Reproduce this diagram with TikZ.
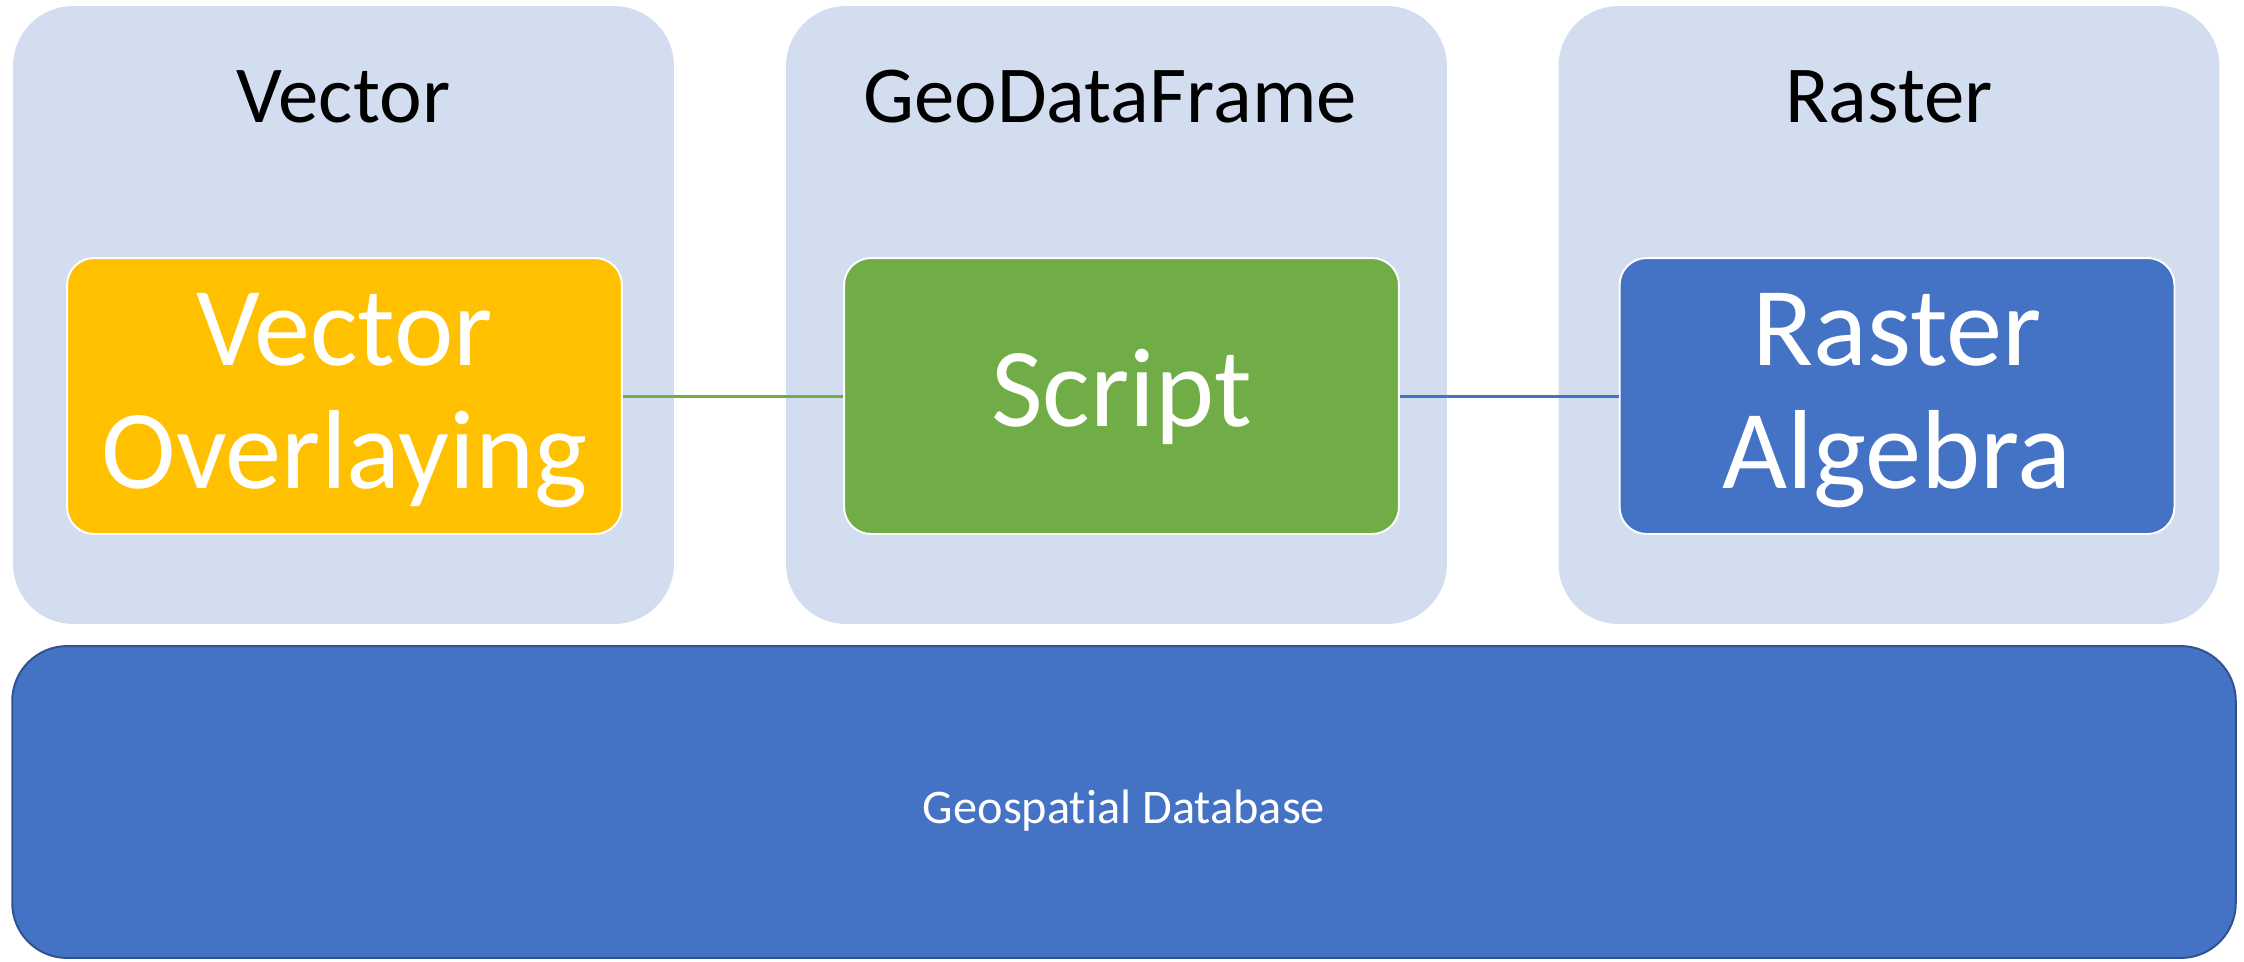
\documentclass[tikz,border=0pt]{standalone}
\usepackage{fontspec}
\setmainfont{Carlito}[Ligatures=NoCommon]
\definecolor{panelfill}{HTML}{D2DEEF}
\definecolor{vecfill}{HTML}{FFC000}
\definecolor{scrfill}{HTML}{70AD47}
\definecolor{rasfill}{HTML}{4472C4}
\definecolor{dbborder}{HTML}{2F528F}
\tikzset{
  panelbox/.style={fill=panelfill, draw=none, rounded corners=1.2cm, inner sep=0pt,
    minimum width=13.22cm, minimum height=12.36cm},
  innerbox/.style={draw=white, line width=1.1pt, rounded corners=0.54cm, inner sep=0pt,
    minimum width=11.1cm, minimum height=5.52cm},
  innertext/.style={anchor=base, inner sep=0pt, text=white, align=center,
    font=\fontsize{64}{70}\selectfont},
  titletext/.style={anchor=base, inner sep=0pt, text=black, font=\fontsize{46}{54}\selectfont},
  dbbox/.style={fill=rasfill, draw=dbborder, line width=1.1pt, rounded corners=1.1cm, inner sep=0pt,
    minimum width=44.48cm, minimum height=6.24cm},
  dbtext/.style={anchor=base, inner sep=0pt, text=white, font=\fontsize{27.5}{33}\selectfont},
  linkline/.style={line width=1.7pt}
}
\begin{document}
\begin{tikzpicture}[x=0.02cm, y=-0.02cm]
\useasboundingbox (0,0) rectangle (2244,961);
% panels
\node[panelbox] (pv) at (343.5,315) {};
\node[panelbox] (pg) at (1116.5,315) {};
\node[panelbox] (pr) at (1889,315) {};
% titles
\node[titletext] (tv) at (343.5,122) {Vector};
\node[titletext] (tg) at (1110,122) {GeoDataFrame};
\node[titletext] (tr) at (1889,122) {Raster};
% inner boxes
\node[innerbox, fill=vecfill] (vo) at (344.5,396) {};
\node[innerbox, fill=scrfill] (sc) at (1121.5,396) {};
\node[innerbox, fill=rasfill] (ra) at (1897,396) {};
\node[innertext] (vot) at (344.5,488) {Vector\\Overlaying};
\node[innertext] (sct) at (1121.5,426) {Script};
\node[innertext] (rat) at (1897,488) {Raster\\Algebra};
% connectors
\draw[linkline, draw=scrfill] (vo.east) -- (sc.west);
\draw[linkline, draw=rasfill] (sc.east) -- (ra.west);
% database
\node[dbbox] (db) at (1124,802) {};
\node[dbtext] (dbt) at (1124,823) {Geospatial Database};
\end{tikzpicture}
\end{document}
